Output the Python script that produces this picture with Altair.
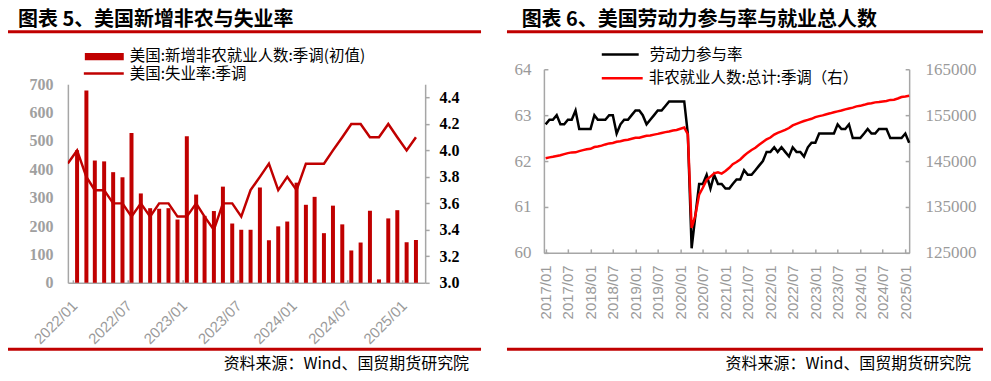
import altair as alt
import pandas as pd

# ---------------- data: left panel (2021/12 - 2025/02) ----------------
unemployment = [3.9,
                4.0, 3.8, 3.7, 3.7, 3.6, 3.6, 3.5, 3.6, 3.5, 3.6, 3.6, 3.5,
                3.5, 3.6, 3.5, 3.4, 3.6, 3.6, 3.5, 3.7, 3.8, 3.9, 3.7, 3.8,
                3.7, 3.9, 3.9, 3.9, 4.0, 4.1, 4.2, 4.2, 4.1, 4.1, 4.2, 4.1,
                4.0, 4.1]
nfp_initial = [467, 678, 431, 428, 390, 372, 528, 315, 263, 261, 263, 223,
               517, 311, 236, 253, 339, 209, 187, 187, 336, 150, 199, 216,
               353, 275, 303, 175, 272, 206, 114, 142, 254, 12, 227, 256,
               143, 151]
rate_dates = [d.strftime("%Y-%m-%d") for d in
              pd.date_range("2021-12-15", periods=len(unemployment), freq=pd.DateOffset(months=1))]
nfp_dates = rate_dates[1:]

# ---------------- data: right panel (2017/01 - 2025/02) ----------------
lfpr = [62.8, 62.9, 62.9, 63.0, 62.8, 62.8, 62.9, 62.9, 63.1, 62.7, 62.7, 62.7,
        62.7, 63.0, 62.9, 62.9, 62.9, 63.0, 63.0, 62.6, 62.8, 62.9, 62.9, 63.0,
        63.1, 63.1, 63.0, 62.8, 62.9, 63.0, 63.1, 63.1, 63.2, 63.3, 63.3, 63.3,
        63.3, 63.3, 62.6, 60.1, 60.8, 61.5, 61.5, 61.7, 61.4, 61.7, 61.5, 61.5,
        61.4, 61.4, 61.5, 61.6, 61.6, 61.8, 61.7, 61.7, 61.8, 61.9, 62.0, 62.2,
        62.2, 62.3, 62.2, 62.3, 62.2, 62.1, 62.3, 62.2, 62.2, 62.1, 62.3, 62.4,
        62.4, 62.6, 62.6, 62.6, 62.6, 62.6, 62.8, 62.7, 62.7, 62.8, 62.5, 62.5,
        62.5, 62.6, 62.7, 62.6, 62.6, 62.7, 62.7, 62.7, 62.5, 62.5, 62.5, 62.5,
        62.6, 62.4]
payems = [145612, 145804, 145929, 146108, 146270, 146513, 146731, 146889, 146895, 147159, 147376, 147553,
          147676, 148047, 148166, 148354, 148624, 148849, 148937, 149214, 149314, 149526, 149647, 149849,
          150065, 150080, 150278, 150494, 150557, 150757, 150916, 151116, 151306, 151458, 151671, 151767,
          152046, 152299, 150871, 130421, 133089, 137704, 139174, 140903, 141620, 142311, 142541, 142265,
          142826, 143540, 144318, 144781, 145352, 146148, 146837, 147423, 147885, 148535, 149149, 149746,
          150125, 150757, 151155, 151467, 151791, 152203, 152765, 153085, 153423, 153726, 153978, 154200,
          154572, 154793, 154953, 155197, 155397, 155642, 155826, 156004, 156264, 156462, 156644, 156913,
          157030, 157252, 157498, 157600, 157785, 157873, 157991, 158070, 158327, 158371, 158632, 158955,
          159082, 159233]
month_dates = [d.strftime("%Y-%m-%d") for d in pd.date_range("2017-01-01", periods=len(lfpr), freq="MS")]

# ---------------- text ----------------
title_left = "图表 5、美国新增非农与失业率"
title_right = "图表 6、美国劳动力参与率与就业总人数"
legend_left = ["美国:新增非农就业人数:季调(初值)", "美国:失业率:季调"]
legend_right = ["劳动力参与率", "非农就业人数:总计:季调（右）"]
source = "资料来源：Wind、国贸期货研究院"

# ---------------- styles ----------------
DARK_RED = "#C00000"
RED = "#FF0000"
GRAY = "#A6A6A6"
LABEL_GRAY = "#9A9A9A"
CJK = "Noto Sans CJK SC"
SERIF = "Liberation Serif"
SANS = "Liberation Sans"
LEG = 15.5

one = pd.DataFrame({"k": [0]})


def DT(y, m, d=1):
    return alt.DateTime(year=y, month=m, date=d, utc=True)


def rect(x1, x2, y1, y2, color):
    return alt.Chart(one).mark_rect(color=color).encode(
        x=alt.value(x1), x2=alt.value(x2), y=alt.value(y1), y2=alt.value(y2))


def hline(x1, x2, y, color, w):
    return alt.Chart(one).mark_rule(color=color, strokeWidth=w).encode(
        x=alt.value(x1), x2=alt.value(x2), y=alt.value(y))


def label(x, y, txt, size, weight="normal", align="left", color="black", font=CJK):
    return alt.Chart(one).mark_text(text=txt, fontSize=size, fontWeight=weight, align=align,
                                    baseline="middle", color=color, font=font).encode(
        x=alt.value(x), y=alt.value(y))


# ---------------- left panel ----------------
LW, LH = 358, 199
left_ticks = [DT(y, m) for y in (2022, 2023, 2024) for m in (1, 7)] + [DT(2025, 1)]
x_left = alt.X("date:T",
               scale=alt.Scale(type="utc", domain=[DT(2022, 1), DT(2025, 3)]),
               axis=alt.Axis(values=left_ticks, labelExpr="utcFormat(datum.value, '%Y/%m')",
                             labelAngle=315, labelAlign="right", labelBaseline="middle",
                             labelOffset=1.5, labelPadding=23, labelFlush=False, labelOverlap=False,
                             labelColor=LABEL_GRAY, labelFont=SANS, labelFontSize=15,
                             tickSize={"expr": "-3"}, tickColor=GRAY, tickWidth=1.5,
                             domainColor=GRAY, domainWidth=1.5, grid=False, title=None))

bars = alt.Chart(pd.DataFrame({"date": nfp_dates, "nfp": nfp_initial})).mark_bar(
    size=4, color=DARK_RED).encode(
    x=x_left,
    y=alt.Y("nfp:Q", scale=alt.Scale(domain=[0, 700], nice=False),
            axis=alt.Axis(orient="left", values=list(range(0, 701, 100)), ticks=False,
                          labelPadding=15, labelFlush=False, labelColor="#A0A0A0", labelFont=SERIF,
                          labelFontWeight="bold", labelFontSize=16,
                          domainColor=GRAY, domainWidth=1.5, grid=False, title=None)))

rate_line = alt.Chart(pd.DataFrame({"date": rate_dates, "rate": unemployment})).mark_line(
    clip=True, color=DARK_RED, strokeWidth=2.5).encode(
    x=x_left,
    y=alt.Y("rate:Q", scale=alt.Scale(domain=[3.0, 4.5], nice=False, zero=False),
            axis=alt.Axis(orient="right", values=[3.0, 3.2, 3.4, 3.6, 3.8, 4.0, 4.2, 4.4], format=".1f",
                          tickSize=4, tickColor=GRAY, tickWidth=1.5, labelPadding=10, labelFlush=False,
                          labelColor="black", labelFont=SERIF, labelFontWeight="bold", labelFontSize=16,
                          domainColor=GRAY, domainWidth=1.5, grid=False, title=None)))

left_deco = [
    rect(-50, -40, -76, -75, "white"),
    label(-50, -64.5, title_left, 20, "bold"),
    rect(-60, 414, -54, -51, DARK_RED),
    rect(17, 56, -31.3, -24, DARK_RED),
    label(62, -27.8, legend_left[0], LEG),
    hline(16, 56, -10.7, DARK_RED, 2.5),
    label(62, -10.5, legend_left[1], LEG),
    rect(-60, 414, 264, 267, DARK_RED),
    label(402, 280, source, 16, align="right"),
]

left = alt.layer(bars, rate_line, *left_deco).resolve_scale(y="independent").properties(
    width=LW, height=LH)

spacer = alt.Chart(one).mark_point(opacity=0).encode(
    x=alt.value(0), y=alt.value(0)).properties(width=LW, height=5)

left_col = alt.vconcat(spacer, left, spacing=10, bounds="flush")

# ---------------- right panel ----------------
RW, RH = 366, 184
right_ticks = [DT(y, m) for y in range(2017, 2025) for m in (1, 7)] + [DT(2025, 1)]
x_right = alt.X("date:T",
                scale=alt.Scale(type="utc", domain=[DT(2016, 12, 18), DT(2025, 2, 1)]),
                axis=alt.Axis(values=right_ticks, labelExpr="utcFormat(datum.value, '%Y/%m')",
                              labelAngle=270, labelAlign="right", labelBaseline="middle",
                              labelPadding=16, labelFlush=False, labelOverlap=False,
                              labelColor=LABEL_GRAY, labelFont=SANS, labelFontSize=15,
                              tickSize={"expr": "-4"}, tickColor=GRAY, tickWidth=1.5,
                              domainColor=GRAY, domainWidth=1.5, grid=False, title=None))

df_right = pd.DataFrame({"date": month_dates, "lfpr": lfpr, "emp": payems})

lfpr_line = alt.Chart(df_right).mark_line(color="black", strokeWidth=2.5).encode(
    x=x_right,
    y=alt.Y("lfpr:Q", scale=alt.Scale(domain=[60, 64], nice=False, zero=False),
            axis=alt.Axis(orient="left", values=[60, 61, 62, 63, 64], format="d",
                          tickSize={"expr": "-4"}, tickColor=GRAY, tickWidth=1.5,
                          labelPadding=17, labelFlush=False, labelColor=LABEL_GRAY, labelFont=SERIF,
                          labelFontSize=17, domainColor=GRAY, domainWidth=1.5, grid=False, title=None)))

emp_line = alt.Chart(df_right).mark_line(color=RED, strokeWidth=2.5).encode(
    x=x_right,
    y=alt.Y("emp:Q", scale=alt.Scale(domain=[125000, 165000], nice=False, zero=False),
            axis=alt.Axis(orient="right", values=list(range(125000, 165001, 10000)), format="d",
                          tickSize={"expr": "-4"}, tickColor=GRAY, tickWidth=1.5,
                          labelPadding=20, labelFlush=False, labelColor=LABEL_GRAY, labelFont=SERIF,
                          labelFontSize=17, domainColor=GRAY, domainWidth=1.5, grid=False, title=None)))

right_deco = [
    rect(-20, -10, -61, -60, "white"),
    label(-22.3, -49.5, title_right, 20, "bold"),
    rect(-37, 440, -39, -36, DARK_RED),
    hline(58, 95, -14.7, "black", 2.5),
    label(106, -14.7, legend_right[0], LEG),
    hline(58, 99, 9, RED, 2.5),
    label(105, 9, legend_right[1], LEG),
    rect(-37, 440, 279, 282, DARK_RED),
    label(428, 295, source, 16, align="right"),
]

right = alt.layer(lfpr_line, emp_line, *right_deco).resolve_scale(y="independent").properties(
    width=RW, height=RH)

chart = alt.hconcat(left_col, right, spacing=26, bounds="full").properties(
    padding=0).configure_view(stroke=None)

chart.save("out.html", embed_options={"renderer": "svg", "actions": False})
